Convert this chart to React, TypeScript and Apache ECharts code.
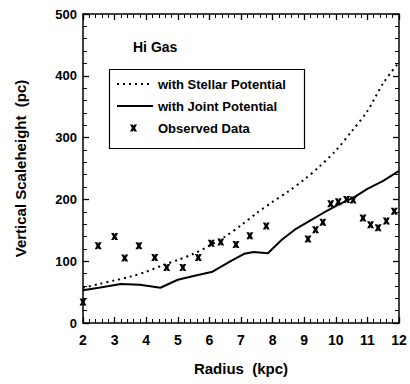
import React, { useEffect, useRef } from "react";
import * as echarts from "echarts";

const xTicks = [2, 3, 4, 5, 6, 7, 8, 9, 10, 11, 12];
const yTicks = [0, 100, 200, 300, 400, 500];

const stellarX = [2, 2.5, 3, 3.5, 4, 4.5, 5, 5.5, 6, 6.5, 7, 7.5, 8, 8.5, 9, 9.5, 10, 10.5, 11, 11.5, 12];
const stellarY = [57, 63, 69, 75, 83, 93, 102, 112, 125, 140, 158, 178, 196, 213, 232, 254, 279, 310, 343, 388, 422];

const jointX = [2, 2.5, 3.2, 3.8, 4.45, 5, 5.5, 6.1, 6.7, 7.1, 7.4, 7.85, 8.3, 8.7, 9.2, 9.6, 10.1, 10.6, 11, 11.5, 12];
const jointY = [53, 57, 63, 62, 57, 70, 76, 83, 101, 112, 115, 113, 135, 151, 166, 178, 192, 204, 217, 230, 246];

const obsX = [2.0, 2.48, 3.0, 3.32, 3.77, 4.27, 4.65, 5.16, 5.65, 6.06, 6.36, 6.84, 7.28, 7.8, 9.12, 9.36, 9.59, 9.84, 10.08, 10.34, 10.55, 10.86, 11.1, 11.34, 11.6, 11.85];
const obsY = [34, 125, 140, 105, 125, 106, 90, 90, 106, 129, 131, 127, 141, 157, 136, 151, 163, 193, 196, 200, 199, 170, 159, 154, 165, 181];

const seriesNames = ["with Stellar Potential", "with Joint Potential", "Observed Data"];

const xMark =
  "path://M0,0L4,0L5,2.2L6,0L10,0L7.2,5L10,10L6,10L5,7.8L4,10L0,10L2.8,5Z";
const xMarkPts = [
  [0, 0], [4, 0], [5, 2.2], [6, 0], [10, 0], [7.2, 5], [10, 10], [6, 10], [5, 7.8], [4, 10], [0, 10], [2.8, 5],
];

const FONT = "'Liberation Sans', Arial, sans-serif";
const labelStyle = { fontFamily: FONT, fontSize: 13, fontWeight: "bold", fill: "#000" };

export default function App() {
  const ref = useRef<HTMLDivElement>(null);
  useEffect(() => {
    if (!ref.current) return;
    const chart = echarts.init(ref.current, null, { renderer: "svg" });
    const zip = (xs: number[], ys: number[]) => xs.map((x, i) => [x, ys[i]]);
    const axisCommon = {
      axisLine: { show: true, onZero: false, lineStyle: { color: "#000", width: 1.5 } },
      axisTick: { show: true, inside: true, length: 6, lineStyle: { color: "#000", width: 1.3 } },
      minorTick: { show: true, splitNumber: 5, length: 4, lineStyle: { color: "#000", width: 1 } },
      splitLine: { show: false },
      minorSplitLine: { show: false },
    };
    const lx = 117;
    const ly = [84, 106, 128];
    chart.setOption({
      animation: false,
      backgroundColor: "#fff",
      title: {
        text: "Hi Gas",
        left: 128,
        top: 35,
        textStyle: { fontFamily: FONT, fontSize: 14, fontWeight: "bold", color: "#000" },
      },
      grid: { left: 83, right: 11, top: 14, bottom: 61 },
      graphic: [
        {
          type: "rect",
          left: 107,
          top: 67,
          shape: { width: 195, height: 79 },
          style: { fill: "none", stroke: "#000", lineWidth: 1.2 },
        },
        {
          type: "line",
          shape: { x1: lx, y1: ly[0], x2: lx + 36, y2: ly[0] },
          style: { stroke: "#000", lineWidth: 2, lineDash: [2, 4] },
        },
        {
          type: "line",
          shape: { x1: lx, y1: ly[1], x2: lx + 36, y2: ly[1] },
          style: { stroke: "#000", lineWidth: 2 },
        },
        {
          type: "polygon",
          x: 130,
          y: ly[2] - 3.5,
          scaleX: 0.7,
          scaleY: 0.7,
          shape: { points: xMarkPts },
          style: { fill: "#000" },
        },
        ...seriesNames.map((n, i) => ({
          type: "text",
          x: 158,
          y: ly[i],
          style: { ...labelStyle, text: n, verticalAlign: "middle" },
        })),
      ],
      xAxis: [
        {
          type: "value",
          min: 2,
          max: 12,
          interval: 1,
          position: "bottom",
          name: "Radius  (kpc)",
          nameLocation: "middle",
          nameGap: 38,
          nameTextStyle: { fontFamily: FONT, fontSize: 15, fontWeight: "bold", color: "#000" },
          axisLabel: {
            color: "#000",
            fontFamily: FONT,
            fontSize: 14,
            fontWeight: "bold",
            margin: 10,
            formatter: (v: number) => (xTicks.includes(v) ? String(v) : ""),
          },
          ...axisCommon,
        },
        {
          type: "value",
          min: 2,
          max: 12,
          interval: 1,
          position: "top",
          axisLabel: { show: false },
          ...axisCommon,
        },
      ],
      yAxis: [
        {
          type: "value",
          min: 0,
          max: 500,
          interval: 100,
          position: "left",
          name: "Vertical Scaleheight  (pc)",
          nameLocation: "middle",
          nameGap: 55,
          nameTextStyle: { fontFamily: FONT, fontSize: 15, fontWeight: "bold", color: "#000" },
          axisLabel: {
            color: "#000",
            fontFamily: FONT,
            fontSize: 13,
            fontWeight: "bold",
            margin: 6,
            formatter: (v: number) => (yTicks.includes(v) ? String(v) : ""),
          },
          ...axisCommon,
        },
        {
          type: "value",
          min: 0,
          max: 500,
          interval: 100,
          position: "right",
          axisLabel: { show: false },
          ...axisCommon,
        },
      ],
      series: [
        {
          name: seriesNames[0],
          type: "line",
          data: zip(stellarX, stellarY),
          smooth: 0.3,
          showSymbol: false,
          symbol: "none",
          lineStyle: { color: "#000", width: 2, type: [2, 4] },
        },
        {
          name: seriesNames[1],
          type: "line",
          data: zip(jointX, jointY),
          showSymbol: false,
          symbol: "none",
          lineStyle: { color: "#000", width: 2 },
        },
        {
          name: seriesNames[2],
          type: "scatter",
          data: zip(obsX, obsY),
          symbol: xMark,
          symbolSize: 7,
          itemStyle: { color: "#000", opacity: 1 },
        },
      ],
    });
    return () => chart.dispose();
  }, []);
  return <div ref={ref} style={{ width: 410, height: 384, position: "absolute", left: 0, top: 0 }} />;
}
